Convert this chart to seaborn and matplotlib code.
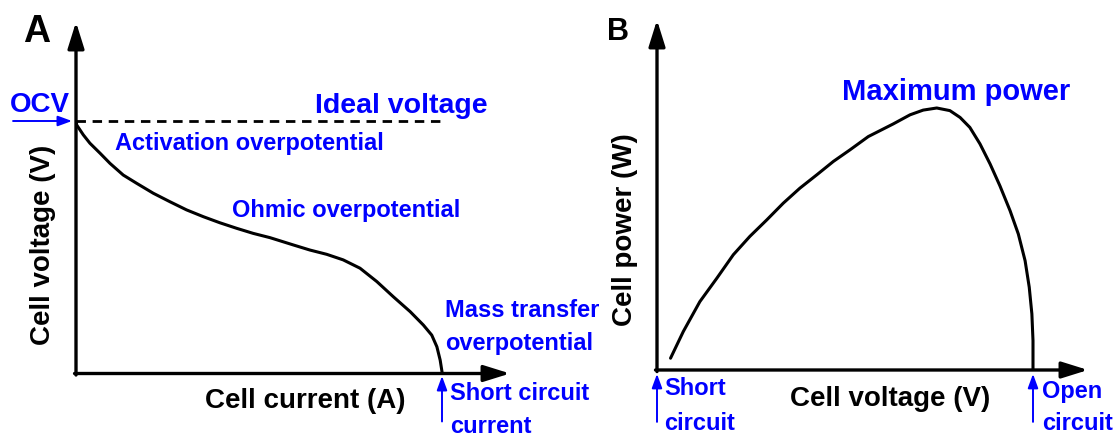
import matplotlib
matplotlib.use("Agg")
import matplotlib.pyplot as plt
import seaborn as sns

# Panel A: polarization curve (current normalised to short circuit, voltage to OCV)
current_a = [0.0, 0.002, 0.020, 0.038, 0.066, 0.093, 0.129, 0.166, 0.211, 0.257,
             0.302, 0.348, 0.393, 0.439, 0.484, 0.530, 0.594, 0.639, 0.685, 0.730,
             0.776, 0.822, 0.867, 0.913, 0.949, 0.972, 0.986, 0.995, 1.0, 1.0]
voltage_a = [1.0, 0.984, 0.945, 0.912, 0.872, 0.832, 0.786, 0.753, 0.714, 0.680,
             0.648, 0.621, 0.597, 0.575, 0.555, 0.538, 0.509, 0.489, 0.472, 0.450,
             0.417, 0.364, 0.304, 0.245, 0.192, 0.152, 0.106, 0.053, 0.007, 0.0]
ocv = 1.0

# Panel B: power curve (voltage normalised to open circuit, power to maximum)
voltage_b = [0.036, 0.070, 0.114, 0.159, 0.203, 0.247, 0.292, 0.336, 0.380, 0.425,
             0.469, 0.513, 0.562, 0.584, 0.628, 0.673, 0.708, 0.744, 0.779, 0.806,
             0.832, 0.859, 0.886, 0.912, 0.939, 0.961, 0.979, 0.990, 0.997, 1.0,
             1.0]
power_b = [0.045, 0.147, 0.261, 0.350, 0.440, 0.510, 0.573, 0.637, 0.694, 0.745,
           0.796, 0.840, 0.891, 0.907, 0.939, 0.974, 0.992, 1.000, 0.990, 0.964,
           0.926, 0.863, 0.786, 0.703, 0.608, 0.519, 0.417, 0.316, 0.214, 0.112,
           0.0]

W, H = 1116, 436
BLUE = "#0000ff"

sns.set_style("white")
plt.rcParams["font.family"] = ["Liberation Sans", "DejaVu Sans"]
plt.rcParams["text.color"] = "black"

fig = plt.figure(figsize=(W / 100, H / 100), dpi=100)


def fpos(x, y):
    return x / W, 1 - y / H


def add_panel(x0, y0, x1, y1):
    # axes box in pixel coordinates (origin corner -> arrow tips)
    return fig.add_axes([x0 / W, 1 - y0 / H, (x1 - x0) / W, (y0 - y1) / H])


axis_arrow = dict(arrowstyle="-|>,head_length=0.8,head_width=0.25",
                  mutation_scale=20, lw=2.4, color="black",
                  shrinkA=0, shrinkB=0)
marker_arrow = dict(arrowstyle="-|>,head_length=0.6,head_width=0.22",
                    mutation_scale=14, lw=1.4, color=BLUE,
                    shrinkA=0, shrinkB=0)


def draw_axes(ax, xmax, ymax):
    ax.set_xlim(0, xmax)
    ax.set_ylim(0, ymax)
    ax.axis("off")
    ax.annotate("", xy=(xmax, 0), xytext=(-0.004, 0), arrowprops=axis_arrow,
                annotation_clip=False)
    ax.annotate("", xy=(0, ymax), xytext=(0, -0.006), arrowprops=axis_arrow,
                annotation_clip=False)


line_kw = dict(color="black", lw=2.2, sort=False, estimator=None,
               solid_joinstyle="round", solid_capstyle="round")

# ---------------- Panel A ----------------
axA = add_panel(76, 373.5, 510, 22)
draw_axes(axA, 434 / 366, 351.5 / 252.5)
sns.lineplot(x=current_a, y=voltage_a, ax=axA, **line_kw)
axA.plot([0, 1.008], [ocv, ocv], color="black", lw=2.0,
         dashes=(3.4, 2.4), clip_on=False)
axA.annotate("", xy=(-0.011, ocv), xytext=(-0.172, ocv),
             arrowprops=marker_arrow, annotation_clip=False)
axA.annotate("", xy=(1.0, -0.01), xytext=(1.0, -0.19),
             arrowprops=marker_arrow, annotation_clip=False)

fig.text(*fpos(37, 42), "A", fontsize=27, fontweight="bold", ha="center",
         va="baseline")
fig.text(*fpos(40, 112), "OCV", fontsize=20, fontweight="bold", color=BLUE,
         ha="center", va="baseline")
fig.text(*fpos(315, 113), "Ideal voltage", fontsize=20.5, fontweight="bold",
         color=BLUE, ha="left", va="baseline")
fig.text(*fpos(115, 150), "Activation overpotential", fontsize=17,
         fontweight="bold", color=BLUE, ha="left", va="baseline")
fig.text(*fpos(232, 217), "Ohmic overpotential", fontsize=17,
         fontweight="bold", color=BLUE, ha="left", va="baseline")
fig.text(*fpos(445, 317), "Mass transfer", fontsize=17, fontweight="bold",
         color=BLUE, ha="left", va="baseline")
fig.text(*fpos(445, 350), "overpotential", fontsize=17, fontweight="bold",
         color=BLUE, ha="left", va="baseline")
fig.text(*fpos(450, 400), "Short circuit", fontsize=17, fontweight="bold",
         color=BLUE, ha="left", va="baseline")
fig.text(*fpos(450, 433), "current", fontsize=17, fontweight="bold",
         color=BLUE, ha="left", va="baseline")
fig.text(*fpos(305, 408), "Cell current (A)", fontsize=20, fontweight="bold",
         ha="center", va="baseline")
fig.text(*fpos(43, 245), "Cell voltage (V)", fontsize=20, fontweight="bold",
         ha="center", va="center", rotation=90)

# ---------------- Panel B ----------------
axB = add_panel(657, 370, 1088, 20)
draw_axes(axB, 431 / 376, 350 / 262)
sns.lineplot(x=voltage_b, y=power_b, ax=axB, **line_kw)
axB.annotate("", xy=(0.0, -0.015), xytext=(0.0, -0.198),
             arrowprops=marker_arrow, annotation_clip=False)
axB.annotate("", xy=(1.0, -0.015), xytext=(1.0, -0.198),
             arrowprops=marker_arrow, annotation_clip=False)

fig.text(*fpos(618, 40), "B", fontsize=22, fontweight="bold", ha="center",
         va="baseline")
fig.text(*fpos(956, 100), "Maximum power", fontsize=21, fontweight="bold",
         color=BLUE, ha="center", va="baseline")
fig.text(*fpos(664, 395), "Short", fontsize=17, fontweight="bold",
         color=BLUE, ha="left", va="baseline")
fig.text(*fpos(664, 430), "circuit", fontsize=17, fontweight="bold",
         color=BLUE, ha="left", va="baseline")
fig.text(*fpos(1042, 398), "Open", fontsize=17, fontweight="bold",
         color=BLUE, ha="left", va="baseline")
fig.text(*fpos(1042, 430), "circuit", fontsize=17, fontweight="bold",
         color=BLUE, ha="left", va="baseline")
fig.text(*fpos(890, 406), "Cell voltage (V)", fontsize=20, fontweight="bold",
         ha="center", va="baseline")
fig.text(*fpos(625, 230), "Cell power (W)", fontsize=20, fontweight="bold",
         ha="center", va="center", rotation=90)

fig.savefig("out.png", dpi=100)
plt.close(fig)
